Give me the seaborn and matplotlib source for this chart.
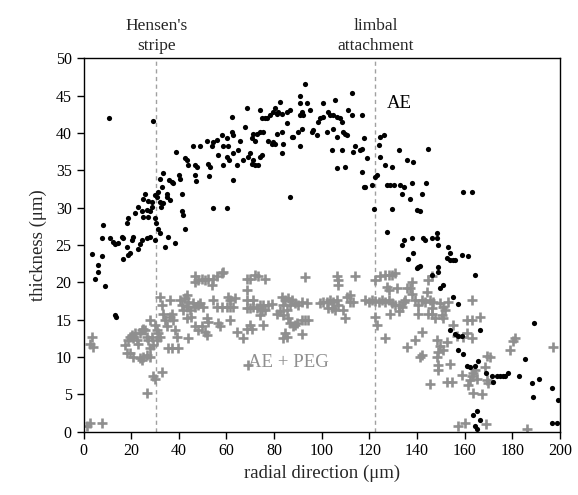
import matplotlib
matplotlib.use("Agg")
import matplotlib.pyplot as plt
import seaborn as sns
import pandas as pd

# ---- AE (black dots) ----
ae_x = [3.4, 4.8, 6.2, 6.2, 7.6, 9.0, 7.6, 11.1, 12.5, 13.2, 14.6, 16.0, 16.7, 18.1, 18.8, 19.5, 16.7, 20.2,
        20.9, 23.0, 23.7, 24.4, 26.5, 27.9, 30.0, 32.1, 34.2, 35.6, 38.4, 13.2, 13.6,
        8.0, 18.8, 18.1, 21.6, 23.0, 24.4, 25.1, 25.8, 26.5, 27.2, 27.9, 28.6, 28.6, 27.2, 25.1, 30.0, 30.7,
        31.4, 32.1, 32.5, 33.5, 35.2, 36.3, 34.9, 32.8, 30.0, 30.4, 31.4, 32.1, 33.5, 36.0, 37.0, 37.7, 40.2,
        40.5, 41.2, 41.5, 41.9, 42.6, 38.8, 42.6, 43.3, 44.0, 46.1, 46.8, 47.5, 46.8, 47.2, 48.9, 51.7, 52.4,
        53.1, 52.8, 53.8, 54.5, 55.9, 56.6, 58.0, 58.7, 58.7, 60.1, 60.1, 60.8, 61.2, 62.2, 62.2, 62.9, 62.9,
        62.6, 64.3, 65.0, 65.7, 67.1, 67.8, 68.5, 69.2, 54.5, 60.1, 10.7, 29.0,
        93.0, 90.9, 90.9, 93.7, 112.6, 105.6, 100.7, 82.5, 80.4, 81.8, 70.6, 71.3, 72.0, 72.7, 74.1, 75.5,
        74.1, 74.8, 76.2, 76.9, 78.3, 79.7, 81.1, 83.2, 85.3, 86.7, 77.6, 79.0, 79.7, 80.4, 81.1, 83.2, 83.9,
        85.3, 87.4, 88.1, 90.2, 91.6, 90.9, 91.6, 92.3, 95.1, 70.6, 72.0, 73.4, 74.8, 74.1, 69.9, 71.3, 83.2,
        90.9, 95.8, 96.5, 97.9, 98.6, 99.3, 100.7, 102.8, 103.5, 104.9, 106.3, 107.7, 108.4, 111.2, 112.6,
        116.8, 102.1, 104.9, 106.3, 109.1, 109.8, 110.5, 104.2, 108.4, 106.3, 109.8, 114.0, 113.3, 116.1,
        116.8, 117.5, 118.9, 116.8, 117.5, 118.2, 121.0, 86.7, 122.4, 123.1, 123.8, 124.5, 125.9, 124.5,
        121.7, 126.6, 129.4, 127.3, 128.7, 130.1, 132.2, 132.9, 134.3, 133.6, 135.7, 129.4, 127.3, 134.3,
        133.6,
        144.7, 138.4, 137.7, 137.0, 141.9, 143.7, 139.8, 141.2, 159.4, 162.9,
        137.7, 142.6, 143.3, 146.1, 148.2, 148.2, 148.9, 138.4, 136.3, 139.8, 140.5, 141.2, 146.1, 148.9,
        148.9, 149.6, 151.0, 153.1, 153.8, 152.4, 153.8, 155.2, 155.9, 158.7, 161.5, 164.3, 155.2, 157.3,
        153.8, 155.9, 157.3, 158.7, 166.4, 157.3, 159.4, 160.8, 162.2, 164.3, 165.7, 168.9, 171.3, 172.0,
        173.4, 174.8, 176.2, 176.9, 178.3, 182.9, 185.3, 189.2, 188.1, 188.5, 191.3, 196.5, 199.3, 196.5,
        198.8, 163.6, 165.0, 164.3, 165.0, 166.4]
ae_y = [23.8, 20.4, 22.3, 21.4, 23.5, 19.5, 25.9, 25.9, 25.4, 25.2, 25.3, 26.1, 25.9, 24.7, 23.7, 23.9, 23.1, 25.7,
        26.1, 24.5, 25.2, 25.7, 25.9, 26.1, 25.7, 26.6, 24.8, 26.1, 25.3, 15.6, 15.3,
        27.7, 28.6, 27.9, 29.3, 30.1, 29.5, 31.2, 31.9, 29.7, 30.9, 29.6, 30.8, 30.1, 28.8, 28.8, 31.7, 31.5,
        32.1, 30.8, 30.1, 30.6, 31.5, 31.0, 31.9, 32.8, 28.6, 27.9, 27.2, 33.9, 34.6, 33.7, 33.5, 33.3, 34.4,
        33.9, 31.9, 29.5, 29.0, 27.1, 37.4, 36.7, 36.4, 35.7, 38.2, 35.7, 35.5, 34.4, 33.6, 38.2, 39.0, 35.9,
        35.5, 34.2, 38.2, 38.8, 39.1, 37.0, 39.7, 38.2, 35.7, 39.3, 36.8, 38.2, 36.4, 42.2, 40.2, 39.7, 37.3,
        33.7, 35.7, 37.7, 39.0, 36.4, 40.8, 43.3, 36.8, 29.9, 29.9, 42.0, 41.6,
        46.6, 44.9, 44.0, 44.0, 45.3, 44.4, 44.0, 44.2, 43.3, 42.8, 39.3, 39.9, 39.0, 39.9, 40.2, 40.2,
        43.1, 42.0, 42.0, 42.0, 42.4, 42.8, 42.6, 42.6, 42.8, 43.1, 39.0, 38.6, 38.8, 38.6, 39.9, 40.2, 38.6,
        41.3, 39.5, 39.5, 40.2, 40.6, 42.4, 42.8, 42.4, 43.1, 35.9, 35.7, 35.7, 37.0, 36.8, 37.3, 36.4, 37.3,
        38.2, 40.2, 40.4, 39.7, 41.5, 42.0, 42.2, 42.8, 42.4, 42.4, 42.2, 42.0, 41.5, 43.1, 42.4,
        42.4, 40.2, 40.6, 39.5, 40.2, 39.9, 39.7, 37.7, 37.7, 35.3, 35.5, 38.2, 37.5, 37.7,
        37.9, 39.3, 36.6, 34.8, 32.8, 32.8, 33.0, 31.5, 34.1, 34.4, 38.4, 39.5, 39.7, 36.8,
        29.8, 35.7, 35.5, 33.0, 33.0, 33.0, 37.7, 33.0, 32.8, 31.9, 36.4, 29.8, 26.8, 25.7,
        25.0,
        37.8, 36.1, 33.3, 31.1, 31.9, 33.3, 29.7, 29.5, 32.1, 32.1,
        25.9, 25.9, 25.7, 26.0, 26.6, 25.9, 25.0, 23.9, 23.1, 21.9, 22.1, 22.2, 21.0, 22.0,
        21.4, 19.2, 19.6, 24.8, 23.9, 23.2, 23.0, 23.0, 23.0, 23.7, 23.5, 21.0, 18.1, 17.1,
        13.6, 13.1, 12.8, 12.8, 13.6, 11.0, 10.4, 8.8, 8.6, 8.8, 9.4, 7.9, 7.4, 6.7,
        7.5, 7.4, 7.4, 7.5, 7.8, 7.5, 9.7, 14.6, 6.5, 4.7, 7.1, 5.9, 4.3, 1.1,
        1.1, 2.2, 2.7, 0.8, 0.4, 1.5]

# ---- AE + PEG (grey crosses) ----
peg_x = [3.4, 2.7, 4.1, 1.3, 2.7, 7.6, 26.5, 29.3, 30.0, 32.8, 17.4, 18.1, 19.5, 20.9, 23.7, 24.4, 25.1, 26.5,
         27.9, 18.8, 19.5, 20.2, 20.9, 21.6, 22.3, 23.0, 23.7, 24.4, 25.1, 25.8, 26.5, 27.2, 28.6, 27.9, 29.3,
         27.9, 30.0, 30.7, 31.4, 32.1, 30.7, 32.1, 32.8, 33.5, 34.2, 34.9, 36.3, 37.0, 37.7, 38.4, 39.1, 35.6,
         37.0, 39.8, 36.3, 40.5, 41.2, 42.6, 43.3, 44.0, 41.9, 43.3, 44.7, 46.1, 46.8, 48.2, 48.9, 50.3, 43.3,
         45.0, 46.8, 48.2, 49.6, 51.0, 52.4, 53.8, 54.5, 55.9, 58.0, 58.7, 46.8, 54.5, 51.7, 52.4, 46.8, 48.2,
         49.6, 51.0, 51.7, 44.0, 55.9, 58.0, 60.1, 61.5, 62.9, 60.8, 61.5, 63.6, 56.6, 57.3, 61.5, 64.3, 67.1,
         68.5, 68.5, 68.5, 68.5, 68.5, 69.2,
         69.9, 72.0, 73.4, 76.2, 93.0, 106.3, 107.0, 107.0, 114.0, 71.3, 69.9, 71.3, 72.7, 74.1, 75.5, 77.6,
         79.0, 74.8, 76.2, 74.1, 83.2, 84.6, 86.0, 87.4, 86.7, 88.8, 90.2, 91.6, 93.7, 83.9, 85.3, 81.1, 82.5,
         83.9, 86.0, 88.1, 88.8, 89.5, 91.6, 93.0, 94.4, 86.7, 84.6, 85.3, 91.6, 83.9, 69.9, 70.6, 75.5, 99.3,
         100.7, 102.1, 103.5, 104.9, 106.3, 102.8, 104.2, 105.6, 107.0, 109.1, 110.5, 111.9, 113.3, 111.9,
         109.8, 118.2, 119.6, 121.0, 122.4, 123.8, 125.2, 126.6, 128.0, 129.4, 130.8, 132.2, 133.6, 134.3,
         135.0, 122.4, 124.5, 126.6, 128.0, 129.4, 130.8, 127.3, 128.0, 131.5, 135.7, 122.4, 123.1, 126.6,
         128.7, 132.2, 135.7,
         137.7, 137.0, 137.7, 139.1, 140.5, 141.9, 143.3, 144.0, 144.7, 146.1, 145.4, 146.8, 146.1, 146.1,
         147.5, 149.6, 151.0, 151.7, 153.1, 150.3, 140.5, 144.7, 151.0, 162.9, 160.8, 162.9, 166.4, 155.2,
         156.6, 159.4, 162.9, 160.8, 169.2, 170.6, 141.9, 139.1, 148.2, 149.6, 152.4, 148.9, 148.2, 151.0,
         141.2, 141.9, 148.9, 148.9, 153.8, 145.4, 152.4, 154.5, 158.7, 161.5, 162.2, 162.9, 163.6, 164.3,
         165.0, 168.5, 169.2, 169.9, 163.6, 167.1, 179.0, 180.4, 181.1, 157.3, 160.1, 168.9, 186.0, 197.2]
peg_y = [12.7, 11.8, 11.4, 0.8, 1.1, 1.1, 5.2, 7.4, 7.1, 8.0, 11.6, 10.5, 10.5, 10.0, 9.8, 9.6, 10.0, 10.3,
         10.0, 12.3, 12.7, 12.9, 12.5, 13.2, 12.3, 11.8, 13.2, 13.6, 13.8, 13.6, 12.7, 12.3, 12.7, 11.2, 11.6,
         15.0, 14.3, 13.6, 13.2, 12.7, 12.3, 18.1, 17.0, 15.8, 15.0, 14.1, 15.4, 15.8, 15.0, 13.6, 12.7, 11.2,
         11.2, 11.2, 17.6, 17.6, 17.0, 17.9, 18.3, 17.4, 16.3, 16.7, 16.3, 17.2, 16.7, 17.0, 17.2, 16.7, 15.2,
         15.3, 20.8, 20.3, 20.5, 20.3, 20.5, 19.6, 20.5, 20.8, 21.2, 21.4, 20.1, 17.6, 15.2, 14.7, 14.1, 13.6,
         14.1, 13.4, 12.9, 12.5, 16.7, 16.7, 16.7, 16.7, 16.7, 18.1, 17.6, 17.9, 14.5, 14.1, 15.0, 13.4, 12.5,
         13.8, 20.5, 19.0, 17.6, 16.5, 8.9,
         20.5, 21.0, 20.8, 20.4, 20.7, 20.8, 20.3, 19.6, 20.8, 17.6, 16.5, 16.7, 16.5, 17.0, 17.0, 17.0,
         17.1, 16.3, 16.3, 15.6, 18.1, 17.6, 17.9, 17.6, 17.0, 17.2, 17.0, 17.4, 17.2, 17.0, 16.3, 15.8, 16.1,
         15.6, 15.2, 14.1, 14.3, 14.5, 14.9, 15.0, 15.0, 14.5, 13.2, 12.7, 13.1, 12.5, 14.3, 13.8, 14.3, 17.2,
         17.4, 17.4, 17.6, 17.4, 17.6, 16.5, 16.5, 16.3, 17.0, 16.3, 18.1, 18.3, 17.4, 17.4,
         15.2, 17.6, 17.4, 17.6, 17.5, 17.4, 17.6, 17.4, 17.6, 17.2, 17.0, 17.0, 16.7, 17.4,
         17.6, 20.3, 20.8, 21.0, 21.0, 21.0, 21.2, 19.4, 19.0, 19.2, 19.2, 15.4, 14.3, 12.6,
         15.8, 16.1, 11.4,
         20.1, 19.2, 18.5, 17.6, 17.0, 17.6, 17.4, 18.7, 20.3, 20.8, 17.6, 17.4, 16.5, 15.8,
         15.2, 17.2, 16.7, 16.3, 17.4, 15.6, 15.8, 15.8, 15.2, 17.6, 15.0, 15.0, 15.3, 14.3,
         12.8, 12.7, 12.5, 13.2, 10.1, 10.0, 13.4, 12.3, 12.3, 11.5, 12.0, 10.7, 10.0, 10.9,
         10.0, 10.3, 8.9, 8.3, 9.1, 6.4, 6.7, 6.7, 7.6, 6.2, 6.9, 7.4, 7.8, 8.3,
         7.1, 8.7, 6.9, 6.5, 5.2, 5.1, 11.0, 12.2, 12.5, 0.7, 1.2, 1.0, 0.4, 11.3]

x_ticks = list(range(0, 201, 20))
y_ticks = list(range(0, 51, 5))
markers_x = [30.5, 122.5]
marker_labels = ["Hensen's\nstripe", "limbal\nattachment"]

ae = pd.DataFrame({"x": ae_x, "y": ae_y})
peg = pd.DataFrame({"x": peg_x, "y": peg_y})

sns.set_style("ticks")
plt.rcParams["font.family"] = ["Liberation Serif", "DejaVu Serif"]

fig = plt.figure(figsize=(5.78, 4.95), dpi=100)
ax = fig.add_axes([0.1445, 0.128, 0.8245, 0.754])

for xv in markers_x:
    ax.axvline(xv, color="#a0a0a0", linestyle=(0, (3, 2.5)), linewidth=1.0, zorder=1)

sns.scatterplot(data=peg, x="x", y="y", marker="+", s=44, linewidth=1.9,
                color="#8f8f8f", ax=ax, zorder=2)
sns.scatterplot(data=ae, x="x", y="y", marker="o", s=14, linewidth=0,
                color="black", ax=ax, zorder=3)

ax.set_xlim(0, 200)
ax.set_ylim(0, 50)
ax.set_xticks(x_ticks)
ax.set_yticks(y_ticks)
ax.tick_params(direction="out", length=5, width=1, labelsize=11.5, colors="black",
               top=False, right=False)
for sp in ax.spines.values():
    sp.set_linewidth(1.0)
    sp.set_color("black")

ax.set_xlabel("radial direction (μm)", fontsize=13.5, labelpad=4)
ax.set_ylabel("thickness (μm)", fontsize=13.5, labelpad=6)

for xv, lab in zip(markers_x, marker_labels):
    ax.text(xv, 1.012, lab, transform=ax.get_xaxis_transform(), ha="center", va="bottom",
            fontsize=12.5, linespacing=1.3)

ax.text(127.4, 44.0, "AE", fontsize=13.5, ha="left", va="center", color="black")
ax.text(85.8, 9.2, "AE + PEG", fontsize=13.5, ha="center", va="center", color="#8f8f8f")

fig.savefig("out.png", dpi=100)
